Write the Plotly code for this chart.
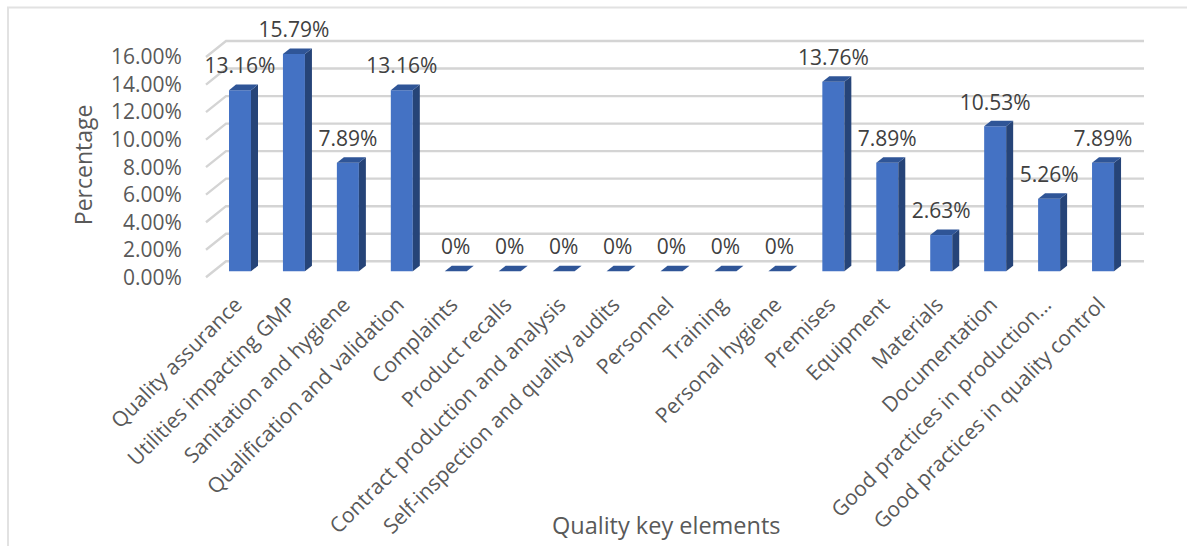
import plotly.graph_objects as go

# Quality key elements and their share of observations (%)
categories = [
    "Quality assurance", "Utilities impacting GMP", "Sanitation and hygiene",
    "Qualification and validation", "Complaints", "Product recalls",
    "Contract production and analysis", "Self-inspection and quality audits",
    "Personnel", "Training", "Personal hygiene", "Premises", "Equipment",
    "Materials", "Documentation", "Good practices in production…",
    "Good practices in quality control",
]
values = [13.16, 15.79, 7.89, 13.16, 0, 0, 0, 0, 0, 0, 0, 13.76, 7.89, 2.63, 10.53, 5.26, 7.89]
value_labels = ["13.16%", "15.79%", "7.89%", "13.16%", "0%", "0%", "0%", "0%", "0%", "0%", "0%",
                "13.76%", "7.89%", "2.63%", "10.53%", "5.26%", "7.89%"]
y_ticks = [0, 2, 4, 6, 8, 10, 12, 14, 16]
y_tick_labels = ["0.00%", "2.00%", "4.00%", "6.00%", "8.00%", "10.00%", "12.00%", "14.00%", "16.00%"]

W, H = 1187, 546
PX_PER_X = 53.94
PX_PER_Y = 13.75
LEFT, RIGHT = 204, 1146
Y_MIN, Y_MAX = -0.2, 20        # head-room above 16% keeps the tallest label inside the plot
ZERO_PX = 277
TOP = ZERO_PX - Y_MAX * PX_PER_Y
BOTTOM = ZERO_PX - Y_MIN * PX_PER_Y
X_MIN = -(240 - LEFT) / PX_PER_X
X_MAX = X_MIN + (RIGHT - LEFT) / PX_PER_X

# Pseudo-3D projection offsets, expressed in axis units
GRID_X0 = -(240 - 206) / PX_PER_X
GRID_X1 = (1144 - 240) / PX_PER_X
WALL_DX, WALL_DY = 20 / PX_PER_X, 16 / PX_PER_Y
BAR_BASE = 6 / PX_PER_Y
BAR_WIDTH = 22 / PX_PER_X
SIDE_DX, SIDE_DY = 7 / PX_PER_X, 5.5 / PX_PER_Y
LABEL_GAP = 16.5 / PX_PER_Y

FRONT, TOP_FACE, SIDE = "#4472C4", "#2F5597", "#264478"
GRID = "#d4d4d4"
TEXT = "#595959"
LABEL = "#404040"
FONT = "Open Sans"

fig = go.Figure()

# Floor-to-wall gridlines: a short diagonal, then the line along the back wall
for t in y_ticks:
    fig.add_trace(go.Scatter(
        x=[GRID_X0, GRID_X0 + WALL_DX, GRID_X1], y=[t, t + WALL_DY, t + WALL_DY],
        mode="lines", line=dict(color=GRID, width=2.4), zorder=0,
        cliponaxis=False, hoverinfo="skip", showlegend=False,
    ))

half = BAR_WIDTH / 2

# Front faces
fig.add_trace(go.Bar(
    x=list(range(len(values))), y=values, base=BAR_BASE, width=BAR_WIDTH,
    marker=dict(color=FRONT, line=dict(width=0)), showlegend=False,
    cliponaxis=False, zorder=1,
))

for i, v in enumerate(values):
    top = v + BAR_BASE
    # right-hand face
    fig.add_trace(go.Scatter(
        x=[i + half, i + half + SIDE_DX, i + half + SIDE_DX, i + half, i + half],
        y=[BAR_BASE, BAR_BASE + SIDE_DY, top + SIDE_DY, top, BAR_BASE],
        mode="lines", fill="toself", fillcolor=SIDE, line=dict(width=0), zorder=2,
        cliponaxis=False, hoverinfo="skip", showlegend=False,
    ))
    # top face
    fig.add_trace(go.Scatter(
        x=[i - half, i - half + SIDE_DX, i + half + SIDE_DX, i + half, i - half],
        y=[top, top + SIDE_DY, top + SIDE_DY, top, top],
        mode="lines", fill="toself", fillcolor=TOP_FACE, line=dict(width=0), zorder=2,
        cliponaxis=False, hoverinfo="skip", showlegend=False,
    ))

# Value labels above each column
fig.add_trace(go.Scatter(
    x=list(range(len(values))),
    y=[v + BAR_BASE + SIDE_DY + LABEL_GAP for v in values],
    text=value_labels, mode="text", textposition="middle center",
    textfont=dict(family=FONT, size=21, color=LABEL), zorder=3,
    cliponaxis=False, hoverinfo="skip", showlegend=False,
))

# Thin frame along the top and left of the canvas
frame = dict(type="line", xref="paper", yref="paper", layer="below",
             line=dict(color="#e2e2e2", width=2))
def px(x):
    return (x - LEFT) / (RIGHT - LEFT)
def py(y):
    return (BOTTOM - y) / (BOTTOM - TOP)

fig.update_layout(
    width=W, height=H, autosize=False,
    margin=dict(l=LEFT, r=W - RIGHT, t=TOP, b=H - BOTTOM, pad=0),
    paper_bgcolor="white", plot_bgcolor="rgba(0,0,0,0)",
    font=dict(family=FONT, color=TEXT),
    showlegend=False,
    shapes=[
        dict(frame, x0=px(7), x1=px(W), y0=py(7.5), y1=py(7.5)),
        dict(frame, x0=px(8), x1=px(8), y0=py(7.5), y1=py(H)),
    ],
    annotations=[
        dict(text="Percentage", xref="paper", yref="paper", x=px(83), y=py(165),
             xanchor="center", yanchor="middle", textangle=-90, showarrow=False,
             font=dict(family=FONT, size=23, color=TEXT)),
        dict(text="Quality key elements", xref="paper", yref="paper", x=px(666), y=py(525),
             xanchor="center", yanchor="middle", showarrow=False,
             font=dict(family=FONT, size=23.5, color=TEXT)),
    ],
    xaxis=dict(
        range=[X_MIN, X_MAX], tickmode="array", tickvals=list(range(len(categories))),
        ticktext=categories, tickangle=-45, showgrid=False, zeroline=False, showline=False,
        ticks="outside", ticklen=3, tickcolor="rgba(0,0,0,0)", ticklabelshift=-4,
        tickfont=dict(family=FONT, size=21, color=TEXT), automargin=False,
    ),
    yaxis=dict(
        range=[Y_MIN, Y_MAX], tickmode="array", tickvals=y_ticks, ticktext=y_tick_labels,
        showgrid=False, zeroline=False, showline=False,
        ticks="outside", ticklen=17, tickcolor="rgba(0,0,0,0)",
        tickfont=dict(family=FONT, size=21, color=TEXT), automargin=False,
    ),
)

fig.write_html("out.html")
